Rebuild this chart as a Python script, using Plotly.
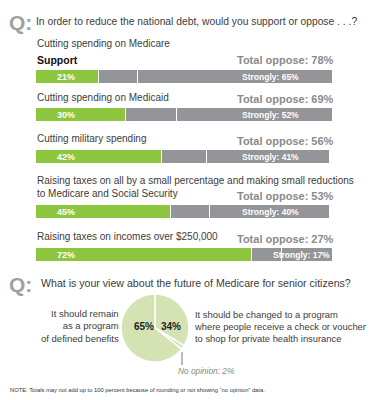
import plotly.graph_objects as go

# page body has an 8px margin: build the figure in reference pixel coords, offset by it
OFF = 8
W, H = 381 - OFF, 400 - OFF

# ---------------- data ----------------
questions = [
    "Cutting spending on Medicare",
    "Cutting spending on Medicaid",
    "Cutting military spending",
    "Raising taxes on all by a small percentage and making small reductions<br>to Medicare and Social Security",
    "Raising taxes on incomes over $250,000",
]
support = [21, 30, 42, 45, 72]
total_oppose = [78, 69, 56, 53, 27]
strongly_oppose = [65, 52, 41, 40, 17]

pie_labels = ["Changed to voucher program", "No opinion", "Remain defined benefits"]
pie_values = [34, 2, 65]

# ---------------- style ----------------
FONT = "Liberation Sans, Arial, sans-serif"
GREEN = "#8cc63f"
GRAY = "#939598"
PIE_GREEN = "#d5e3b4"
TXT = "#3c3c3c"
QGRAY = "#a0a0a0"

bar_center = [77, 115, 157, 212, 255]
label_center = [43, 98, 139, 187, 236]
total_center = [60, 99, 141, 196, 239]
BAR_H = 14
X0, PX_PER_PCT = 36, 3.0


def px(x):
    return (x - OFF) / W


def py(y):
    return 1 - (y - OFF) / H


fig = go.Figure()
layout_axes = {}
annotations = []

somewhat = [t - s for t, s in zip(total_oppose, strongly_oppose)]

for i, q in enumerate(questions):
    yname = "y" if i == 0 else f"y{i+1}"
    ykey = "yaxis" if i == 0 else f"yaxis{i+1}"
    for val, col, name in [(support[i], GREEN, "Support"),
                           (somewhat[i], GRAY, "Oppose somewhat"),
                           (strongly_oppose[i], GRAY, "Oppose strongly")]:
        fig.add_trace(go.Bar(
            x=[val], y=[q], orientation="h", yaxis=yname, xaxis="x",
            marker=dict(color=col, line=dict(color="white", width=1.5)),
            width=1, showlegend=False, hoverinfo="x+name", name=name,
        ))
    c = bar_center[i]
    layout_axes[ykey] = dict(
        domain=[py(c + BAR_H / 2), py(c - BAR_H / 2)],
        type="category", range=[-0.5, 0.5], visible=False,
        fixedrange=True, anchor="x",
    )
    annotations.append(dict(
        text=q, x=px(35), y=py(label_center[i]), xref="paper", yref="paper",
        xanchor="left", yanchor="middle", showarrow=False, align="left",
        font=dict(family=FONT, size=10, color=TXT),
    ))
    annotations.append(dict(
        text=f"<b>Total oppose: {total_oppose[i]}%</b>", x=px(336), y=py(total_center[i]),
        xref="paper", yref="paper", xanchor="right", yanchor="middle", showarrow=False,
        font=dict(family=FONT, size=11, color="#8a8a8a"),
    ))
    annotations.append(dict(
        text=f"<b>{support[i]}%</b>", x=10, y=q, xref="x", yref=yname,
        xanchor="center", yanchor="middle", showarrow=False,
        font=dict(family=FONT, size=9, color="white"),
    ))
    end = support[i] + total_oppose[i]
    if strongly_oppose[i] >= 30:
        sx, anc = 78, "center"
    else:
        sx, anc = end - 0.3, "right"
    annotations.append(dict(
        text=f"<b>Strongly: {strongly_oppose[i]}%</b>", x=sx, y=q, xref="x", yref=yname,
        xanchor=anc, yanchor="middle", showarrow=False,
        font=dict(family=FONT, size=8.5, color="white"),
    ))

annotations.append(dict(
    text="<b>Support</b>", x=px(35), y=py(60), xref="paper", yref="paper",
    xanchor="left", yanchor="middle", showarrow=False,
    font=dict(family=FONT, size=10.5, color="#111111"),
))

for qy, ty, txt, tx, fs in [(23, 21, "In order to reduce the national debt, would you support or oppose . . .?", 34, 10.3),
                            (284, 283, "What is your view about the future of Medicare for senior citizens?", 39, 10.6)]:
    annotations.append(dict(
        text="<b>Q:</b>", x=px(7), y=py(qy), xref="paper", yref="paper",
        xanchor="left", yanchor="middle", showarrow=False,
        font=dict(family=FONT, size=21, color=QGRAY),
    ))
    annotations.append(dict(
        text=txt, x=px(tx), y=py(ty), xref="paper", yref="paper",
        xanchor="left", yanchor="middle", showarrow=False,
        font=dict(family=FONT, size=fs, color=TXT),
    ))

PC_X, PC_Y, PR = 155, 328, 34
fig.add_trace(go.Pie(
    labels=pie_labels, values=pie_values, sort=False, direction="clockwise", rotation=0,
    marker=dict(colors=[PIE_GREEN] * 3, line=dict(color="white", width=1.5)),
    textinfo="none", showlegend=False, hoverinfo="label+percent",
    domain=dict(x=[px(PC_X - PR), px(PC_X + PR)], y=[py(PC_Y + PR), py(PC_Y - PR)]),
))

annotations += [
    dict(text="<b>65%</b>", x=px(144), y=py(326), xref="paper", yref="paper", showarrow=False,
         xanchor="center", yanchor="middle", font=dict(family=FONT, size=10, color="#222")),
    dict(text="<b>34%</b>", x=px(171), y=py(326), xref="paper", yref="paper", showarrow=False,
         xanchor="center", yanchor="middle", font=dict(family=FONT, size=10, color="#222")),
    dict(text="It should remain<br>as a program<br>of defined benefits", x=px(121), y=py(326),
         xref="paper", yref="paper", showarrow=False, xanchor="right", yanchor="middle",
         align="right", font=dict(family=FONT, size=9.5, color=TXT)),
    dict(text="It should be changed to a program<br>where people receive a check or voucher<br>to shop for private health insurance",
         x=px(192), y=py(326), xref="paper", yref="paper", showarrow=False, xanchor="left",
         yanchor="middle", align="left", font=dict(family=FONT, size=9.4, color=TXT)),
    dict(text="<i>No opinion: 2%</i>", x=px(176), y=py(371), xref="paper", yref="paper",
         showarrow=False, xanchor="left", yanchor="middle",
         font=dict(family=FONT, size=8.3, color="#888")),
    dict(text="NOTE: Totals may not add up to 100 percent because of rounding or not showing \u201cno opinion\u201d data.",
         x=px(8), y=py(390), xref="paper", yref="paper", showarrow=False, xanchor="left",
         yanchor="middle", font=dict(family=FONT, size=5.8, color="#333")),
]

fig.update_layout(
    width=W, height=H, margin=dict(l=0, r=0, t=0, b=0),
    paper_bgcolor="white", plot_bgcolor="white",
    barmode="stack", bargap=0,
    xaxis=dict(domain=[0, 1], range=[(OFF - X0) / PX_PER_PCT, (381 - X0) / PX_PER_PCT],
               visible=False, fixedrange=True, anchor="y"),
    annotations=annotations,
    shapes=[dict(type="line", xref="paper", yref="paper", x0=px(182), x1=px(182),
                 y0=py(352), y1=py(365), line=dict(color="#777", width=1))],
    **layout_axes,
)

fig.write_html("out.html")
